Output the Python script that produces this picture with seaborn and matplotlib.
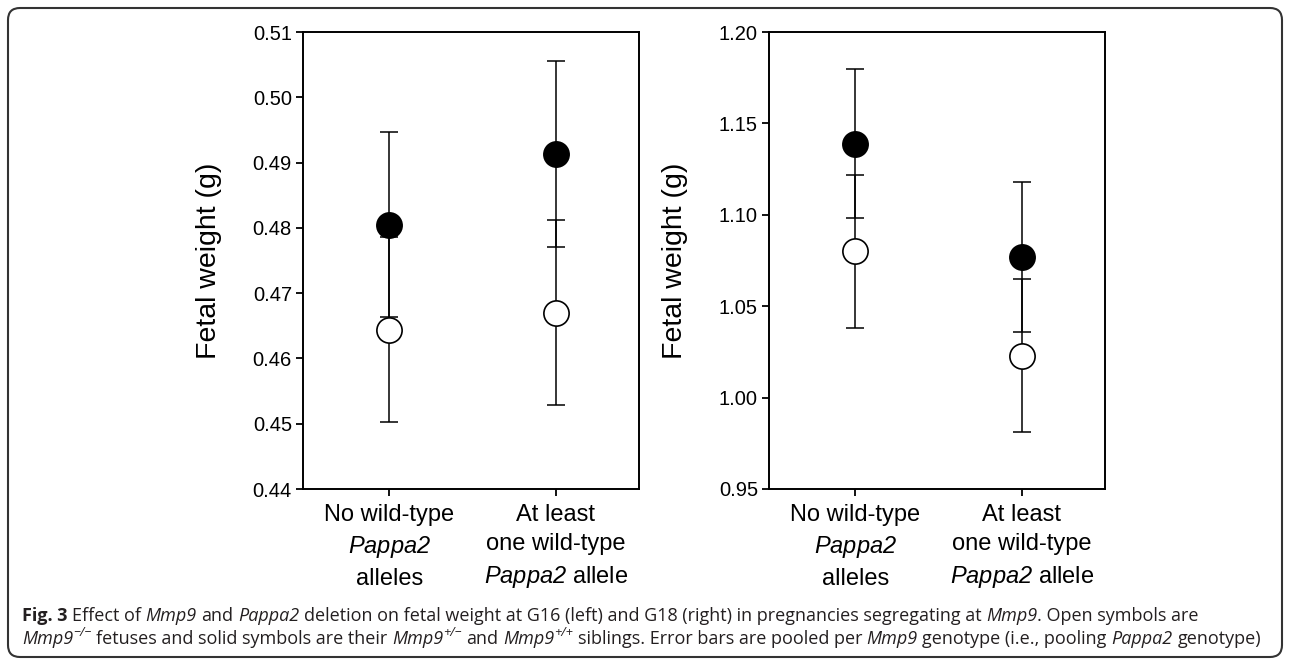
import numpy as np
import matplotlib
matplotlib.use('Agg')
import matplotlib.pyplot as plt
import seaborn as sns
from matplotlib.patches import FancyBboxPatch
from matplotlib.transforms import IdentityTransform

# Data
genotype = ["none", "one"]
tick_labels = ["No wild-type\n$Pappa2$\nalleles",
               "At least\none wild-type\n$Pappa2$ allele"]

# G16 (left panel)
g16_solid = [0.4805, 0.4913]
g16_open = [0.4644, 0.4670]
g16_solid_se = 0.0142
g16_open_se = 0.0142
g16_ticks = [0.44, 0.45, 0.46, 0.47, 0.48, 0.49, 0.50, 0.51]

# G18 (right panel)
g18_solid = [1.139, 1.077]
g18_open = [1.080, 1.023]
g18_solid_se = 0.041
g18_open_se = 0.042
g18_ticks = [0.95, 1.00, 1.05, 1.10, 1.15, 1.20]

sns.set_theme(style="ticks")
plt.rcParams['font.family'] = ['Liberation Sans', 'DejaVu Sans']
# math text is only used for the italic gene name, digits included
plt.rcParams['mathtext.fontset'] = 'custom'
plt.rcParams['mathtext.rm'] = 'Liberation Sans:italic'
plt.rcParams['mathtext.it'] = 'Liberation Sans:italic'

W, H = 1290, 660
fig = plt.figure(figsize=(W / 100, H / 100), dpi=100)
ax1 = fig.add_axes([303 / W, 1 - 489 / H, 336 / W, 457 / H])
ax2 = fig.add_axes([769 / W, 1 - 489 / H, 336 / W, 457 / H])


def draw_panel(ax, solid, open_, se_solid, se_open, yticks):
    ax.errorbar(genotype, solid, yerr=se_solid, fmt='none', ecolor='black',
                elinewidth=1.1, capsize=6.5, capthick=1.1, zorder=2)
    ax.errorbar(genotype, open_, yerr=se_open, fmt='none', ecolor='black',
                elinewidth=1.1, capsize=6.5, capthick=1.1, zorder=2)
    sns.scatterplot(x=genotype, y=solid, color='black', edgecolor='black',
                    s=330, linewidth=1.2, ax=ax, zorder=3, legend=False)
    sns.scatterplot(x=genotype, y=open_, color='white', edgecolor='black',
                    s=330, linewidth=1.2, ax=ax, zorder=3, legend=False)
    ax.set_xlim(-0.52, 1.5)
    ax.set_ylim(yticks[0], yticks[-1])
    ax.set_yticks(yticks)
    ax.set_yticklabels(['%.2f' % v for v in yticks])
    ax.set_xticks([0, 1])
    ax.set_xticklabels(tick_labels, linespacing=1.45)
    for s in ax.spines.values():
        s.set_visible(True)
        s.set_linewidth(1.4)
        s.set_color('black')
    ax.tick_params(axis='both', direction='out', length=5, width=1.3,
                   color='black', labelcolor='black')
    ax.tick_params(axis='y', labelsize=14.5, pad=3)
    ax.tick_params(axis='x', labelsize=17, pad=5.5)
    ax.set_xlabel('')
    ax.set_ylabel('Fetal weight (g)', fontsize=20.5, color='black')
    ax.yaxis.set_label_coords(-0.24, 0.5)


draw_panel(ax1, g16_solid, g16_open, g16_solid_se, g16_open_se, g16_ticks)
draw_panel(ax2, g18_solid, g18_open, g18_solid_se, g18_open_se, g18_ticks)

# outer rounded frame
frame = FancyBboxPatch((8, 3), 1274, 649, boxstyle="round,pad=0,rounding_size=12",
                       transform=IdentityTransform(), fill=False,
                       edgecolor='#333333', linewidth=1.5)
fig.patches.append(frame)

# caption, drawn run by run so italics / superscripts can be mixed
cap_font = 'Open Sans'
cap_size = 13
cap_color = '#231f20'
renderer = fig.canvas.get_renderer()


def width_of(s, size, **kw):
    t = fig.text(0, 0, s, fontsize=size, family=cap_font, **kw)
    w = t.get_window_extent(renderer).width
    t.remove()
    return w


def put_runs(x, y, runs):
    sp = width_of("a a", cap_size) - width_of("aa", cap_size)
    for txt, style, weight, sup in runs:
        lead = len(txt) - len(txt.lstrip(' '))
        trail = len(txt) - len(txt.rstrip(' '))
        x += lead * sp
        fs = cap_size * 0.7 if sup else cap_size
        dy = cap_size * 0.42 * 100 / 72 if sup else 0
        t = fig.text(x, y + dy, txt.strip(' '), transform=IdentityTransform(),
                     fontsize=fs, style=style, weight=weight, family=cap_font,
                     va='baseline', ha='left', color=cap_color)
        x = t.get_window_extent(renderer).x1 + trail * sp


line1 = [("Fig. 3", 'normal', 'bold', False),
         (" Effect of ", 'normal', 'normal', False),
         ("Mmp9", 'italic', 'normal', False),
         (" and ", 'normal', 'normal', False),
         ("Pappa2", 'italic', 'normal', False),
         (" deletion on fetal weight at G16 (left) and G18 (right) in pregnancies segregating at ",
          'normal', 'normal', False),
         ("Mmp9", 'italic', 'normal', False),
         (". Open symbols are", 'normal', 'normal', False)]
line2 = [("Mmp9", 'italic', 'normal', False),
         ("\u2212/\u2212", 'italic', 'normal', True),
         (" fetuses and solid symbols are their ", 'normal', 'normal', False),
         ("Mmp9", 'italic', 'normal', False),
         ("+/\u2212", 'italic', 'normal', True),
         (" and ", 'normal', 'normal', False),
         ("Mmp9", 'italic', 'normal', False),
         ("+/+", 'italic', 'normal', True),
         (" siblings. Error bars are pooled per ", 'normal', 'normal', False),
         ("Mmp9", 'italic', 'normal', False),
         (" genotype (i.e., pooling ", 'normal', 'normal', False),
         ("Pappa2", 'italic', 'normal', False),
         (" genotype)", 'normal', 'normal', False)]

put_runs(22, 660 - 621, line1)
put_runs(22, 660 - 644, line2)

fig.savefig('out.png', dpi=100)
